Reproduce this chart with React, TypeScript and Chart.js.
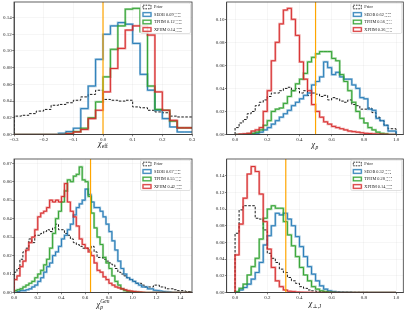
import React, { useEffect, useRef } from "react";
import { Chart, registerables } from "chart.js";
Chart.register(...registerables);

// ---------- data ----------
// Panel 1: chi_eff, bins from -0.3 width 0.025
const P1_LO = -0.3;
const P1_BW = 0.025;
const PRIOR1 = [0.021,0.022,0.023,0.025,0.028,0.030,0.035,0.036,0.038,0.041,0.045,0.048,0.053,0.042,0.041,0.040,0.041,0.033,0.032,0.029,0.027,0.026,0.022,0.021];
const SEOB1 = [0,0,0,0,0,0,0,0.0015,0.0035,0.0075,0.031,0.058,0.090,0.120,0.130,0.134,0.132,0.109,0.072,0.053,0.029,0.019,0.009,0.003];
const TPHM1 = [0,0,0,0,0,0,0,0,0.001,0.0035,0.0075,0.020,0.039,0.069,0.102,0.130,0.150,0.151,0.123,0.058,0.030,0.029,0.016,0.008];
const XPHM1 = [0,0,0,0,0,0,0,0,0.001,0.003,0.006,0.019,0.029,0.051,0.079,0.103,0.125,0.130,0.130,0.119,0.051,0.029,0.017,0.008];

// Panel 2: chi_p, bins from 0 width 0.025
const P2_LO = 0;
const P2_BW = 0.025;
const PRIOR2 = [0.003,0.006,0.010,0.013,0.018,0.020,0.025,0.028,0.030,0.033,0.036,0.036,0.038,0.040,0.041,0.038,0.040,0.036,0.038,0.034,0.036,0.035,0.033,0.034,0.030,0.032,0.031,0.029,0.028,0.030,0.026,0.025,0.022,0.022,0.023,0.019,0.015,0.012,0.008,0.005];
const SEOB2 = [0,0,0,0,0,0.0005,0.001,0.002,0.004,0.006,0.009,0.012,0.015,0.018,0.021,0.025,0.028,0.031,0.034,0.036,0.043,0.046,0.050,0.063,0.058,0.052,0.054,0.050,0.048,0.048,0.043,0.040,0.032,0.031,0.022,0.021,0.014,0.012,0.008,0.003];
const TPHM2 = [0,0,0,0,0.0005,0.001,0.002,0.004,0.008,0.012,0.020,0.022,0.023,0.027,0.033,0.038,0.044,0.048,0.053,0.063,0.067,0.070,0.072,0.072,0.072,0.066,0.064,0.052,0.046,0.038,0.028,0.020,0.014,0.010,0.006,0.004,0.002,0.001,0.0005,0];
const XPHM2 = [0,0,0.0003,0.0006,0.001,0.003,0.004,0.006,0.020,0.038,0.064,0.080,0.096,0.108,0.1095,0.100,0.086,0.063,0.048,0.038,0.026,0.020,0.015,0.011,0.009,0.007,0.006,0.005,0.004,0.003,0.0025,0.002,0.0015,0.001,0.0008,0.0005,0.0003,0.0002,0.0001,0];

// Panel 3: chi_p^Gen, bins from 0 width 0.025
const P3_LO = 0;
const P3_BW = 0.025;
const PRIOR3 = [0.002,0.011,0.013,0.018, 0.022,0.024,0.029,0.027, 0.031,0.031,0.032,0.033, 0.034,0.033,0.035,0.037, 0.034,0.034,0.032,0.031, 0.029,0.027,0.026,0.025, 0.024,0.024,0.023,0.025, 0.022,0.019,0.019,0.018, 0.017,0.016,0.015,0.013, 0.011,0.010,0.009,0.008, 0.007,0.006,0.005,0.005, 0.004,0.003,0.003,0.003, 0.004,0.004,0.003,0.003, 0.002,0.002,0.002,0.0015, 0.001,0.001,0.0008,0.0005];
const SEOB3 = [0,0,0.0005,0.001, 0.001,0.0015,0.002,0.003, 0.004,0.006,0.008,0.011, 0.014,0.016,0.020,0.022, 0.025,0.029,0.031,0.034, 0.037,0.042,0.046,0.048, 0.050,0.056,0.053,0.049, 0.046,0.046,0.044,0.041, 0.037,0.033,0.028,0.023, 0.017,0.013,0.010,0.008, 0.007,0.006,0.005,0.004, 0.003,0.003,0.002,0.002, 0.0012,0.001,0.0008,0.0005, 0.0003,0.0002,0,0, 0,0,0,0];
const TPHM3 = [0.0005,0.001,0.0015,0.002, 0.003,0.004,0.005,0.006, 0.008,0.010,0.012,0.015, 0.018,0.024,0.032,0.040, 0.044,0.049,0.055,0.061, 0.060,0.063,0.064,0.068, 0.061,0.060,0.052,0.043, 0.035,0.030,0.026,0.019, 0.016,0.013,0.009,0.006, 0.004,0.002,0.001,0.0005, 0.0004,0.0003,0.0002,0.0001, 0,0,0,0, 0,0,0,0, 0,0,0,0, 0,0,0,0];
const XPHM3 = [0.002,0.007,0.009,0.014, 0.017,0.023,0.027,0.030, 0.034,0.041,0.043,0.044, 0.046,0.050,0.049,0.050, 0.049,0.052,0.059,0.049, 0.044,0.041,0.036,0.029, 0.026,0.024,0.022,0.020, 0.016,0.012,0.011,0.0085, 0.007,0.005,0.004,0.003, 0.0025,0.002,0.0015,0.001, 0.0008,0.0005,0.0003,0.0002, 0.0001,0,0,0, 0,0,0,0, 0,0,0,0, 0,0,0,0];

// Panel 4: chi_perp,J, bins from 0 width 0.025
const P4_LO = 0;
const P4_BW = 0.025;
const PRIOR4 = [0.039,0.071,0.099,0.104,0.104,0.104,0.089,0.088,0.075,0.047,0.041,0.036,0.028,0.024,0.018,0.014,0.011,0.007,0.005,0.003,0.002,0.0015,0.001,0.001,0.0008,0.0006,0.0005,0.0004,0.0003,0.0003,0.0002,0.0002,0.0001,0.0001,0,0,0,0,0,0];
const SEOB4 = [0,0,0.003,0.006,0.010,0.016,0.024,0.036,0.057,0.068,0.080,0.095,0.093,0.095,0.088,0.080,0.067,0.055,0.043,0.031,0.022,0.014,0.008,0.004,0.002,0.001,0.0005,0.0003,0.0002,0.0001,0,0,0,0,0,0,0,0,0,0];
const TPHM4 = [0,0.001,0.005,0.010,0.021,0.031,0.041,0.064,0.089,0.100,0.104,0.101,0.101,0.085,0.069,0.056,0.043,0.030,0.021,0.014,0.007,0.004,0.002,0.001,0.0005,0.0002,0,0,0,0,0,0,0,0,0,0,0,0,0,0];
const XPHM4 = [0.012,0.045,0.082,0.113,0.142,0.151,0.145,0.118,0.085,0.052,0.030,0.014,0.007,0.003,0.0015,0.001,0.0005,0.0003,0.0002,0.0001,0,0,0,0,0,0,0,0,0,0,0,0,0,0,0,0,0,0,0,0];

const TRUTHS = [0.0, 0.5, 0.645, 0.315];

const XTICKS1 = [-0.3, -0.2, -0.1, 0.0, 0.1, 0.2, 0.3];
const YTICKS1 = [0, 0.02, 0.04, 0.06, 0.08, 0.1, 0.12, 0.14];
const XTICKS2 = [0, 0.2, 0.4, 0.6, 0.8, 1.0];
const YTICKS2 = [0, 0.02, 0.04, 0.06, 0.08, 0.1];
const XTICKS3 = [0, 0.2, 0.4, 0.6, 0.8, 1.0, 1.2, 1.4];
const YTICKS3 = [0, 0.01, 0.02, 0.03, 0.04, 0.05, 0.06, 0.07];
const XTICKS4 = [0, 0.2, 0.4, 0.6, 0.8, 1.0];
const YTICKS4 = [0, 0.02, 0.04, 0.06, 0.08, 0.1, 0.12, 0.14];

const SERIES_NAMES = ["Prior", "SEOB", "TPHM", "XPHM"];
const LEG1 = [["", "", ""], ["0.09", "+0.08", "\u22120.08"], ["0.12", "+0.08", "\u22120.08"], ["0.14", "+0.08", "\u22120.09"]];
const LEG2 = [["", "", ""], ["0.62", "+0.22", "\u22120.21"], ["0.56", "+0.17", "\u22120.19"], ["0.36", "+0.17", "\u22120.11"]];
const LEG3 = [["", "", ""], ["0.67", "+0.26", "\u22120.26"], ["0.55", "+0.17", "\u22120.21"], ["0.42", "+0.25", "\u22120.27"]];
const LEG4 = [["", "", ""], ["0.32", "+0.16", "\u22120.14"], ["0.28", "+0.14", "\u22120.13"], ["0.14", "+0.08", "\u22120.07"]];

const COLORS = ["#000000", "#1f77b4", "#2ca02c", "#d62728"];
const HALOS = ["rgba(0,0,0,0)", "rgba(31,119,180,0.45)", "rgba(44,160,44,0.45)", "rgba(214,39,40,0.45)"];
const TRUTH_COLOR = "#ffa500";

// ---------- layout ----------
type Area = { l: number; t: number; r: number; b: number };
type PanelDef = {
  left: number; top: number; cw: number; ch: number; area: Area;
  lo: number; bw: number; series: number[][];
  xMin: number; xMax: number; yMax: number;
  xTicks: number[]; yTicks: number[]; xDec: number; yDec: number;
  truth: number; legend: string[][]; legW: number;
  xlabel: { base: string; sub: string; sup: string; dy: number };
};

const PANELS: PanelDef[] = [
  { left: 0, top: 0, cw: 204, ch: 157, area: { l: 14, t: 2, r: 192, b: 134.5 },
    lo: P1_LO, bw: P1_BW, series: [PRIOR1, SEOB1, TPHM1, XPHM1],
    xMin: -0.3, xMax: 0.3, yMax: 0.1586, xTicks: XTICKS1, yTicks: YTICKS1, xDec: 1, yDec: 2,
    truth: TRUTHS[0], legend: LEG1, legW: 50,
    xlabel: { base: "\u03c7", sub: "eff", sup: "", dy: 11.5 } },
  { left: 204, top: 0, cw: 203, ch: 157, area: { l: 22.7, t: 2, r: 199.3, b: 134.5 },
    lo: P2_LO, bw: P2_BW, series: [PRIOR2, SEOB2, TPHM2, XPHM2],
    xMin: -0.052, xMax: 1.045, yMax: 0.115, xTicks: XTICKS2, yTicks: YTICKS2, xDec: 1, yDec: 2,
    truth: TRUTHS[1], legend: LEG2, legW: 51,
    xlabel: { base: "\u03c7", sub: "p", sup: "", dy: 12.2 } },
  { left: 0, top: 157, cw: 204, ch: 158, area: { l: 14, t: 2, r: 192, b: 135.5 },
    lo: P3_LO, bw: P3_BW, series: [PRIOR3, SEOB3, TPHM3, XPHM3],
    xMin: 0, xMax: 1.5, yMax: 0.0723, xTicks: XTICKS3, yTicks: YTICKS3, xDec: 1, yDec: 2,
    truth: TRUTHS[2], legend: LEG3, legW: 50,
    xlabel: { base: "\u03c7", sub: "p", sup: "Gen", dy: 14.5 } },
  { left: 204, top: 157, cw: 203, ch: 158, area: { l: 22.7, t: 2, r: 199.3, b: 135.5 },
    lo: P4_LO, bw: P4_BW, series: [PRIOR4, SEOB4, TPHM4, XPHM4],
    xMin: -0.052, xMax: 1.045, yMax: 0.160, xTicks: XTICKS4, yTicks: YTICKS4, xDec: 1, yDec: 2,
    truth: TRUTHS[3], legend: LEG4, legW: 51,
    xlabel: { base: "\u03c7", sub: "\u22a5,J", sup: "", dy: 13 } },
];

function histPoints(lo: number, w: number, counts: number[]) {
  const pts: { x: number; y: number }[] = [{ x: lo, y: 0 }];
  counts.forEach((c, i) => pts.push({ x: lo + i * w, y: c }));
  const end = lo + counts.length * w;
  pts.push({ x: end, y: counts[counts.length - 1] });
  pts.push({ x: end, y: 0 });
  return pts;
}

const fmt = (v: number, d: number) => {
  const s = Math.abs(v).toFixed(d);
  return v < -1e-9 ? "\u2212" + s : s;
};

const SERIF = '"Liberation Serif", "DejaVu Serif", serif';

function makeDecor(p: PanelDef) {
  return {
    id: "decor",
    afterDraw(chart: any) {
      const ctx: CanvasRenderingContext2D = chart.ctx;
      const a = chart.chartArea;
      ctx.save();
      // frame
      ctx.strokeStyle = "#3a3a3a";
      ctx.lineWidth = 0.8;
      ctx.setLineDash([]);
      ctx.strokeRect(a.left, a.top, a.right - a.left, a.bottom - a.top);

      // legend
      const bw = p.legW, bh = 30.5;
      const bx = a.right - 1.5 - bw, by = a.top + 1;
      ctx.beginPath();
      const r = 1.5;
      ctx.moveTo(bx + r, by);
      ctx.lineTo(bx + bw - r, by); ctx.quadraticCurveTo(bx + bw, by, bx + bw, by + r);
      ctx.lineTo(bx + bw, by + bh - r); ctx.quadraticCurveTo(bx + bw, by + bh, bx + bw - r, by + bh);
      ctx.lineTo(bx + r, by + bh); ctx.quadraticCurveTo(bx, by + bh, bx, by + bh - r);
      ctx.lineTo(bx, by + r); ctx.quadraticCurveTo(bx, by, bx + r, by);
      ctx.closePath();
      ctx.fillStyle = "rgba(255,255,255,0.85)";
      ctx.fill();
      ctx.strokeStyle = "#cccccc";
      ctx.lineWidth = 0.6;
      ctx.stroke();

      SERIES_NAMES.forEach((name, i) => {
        const cy = by + 4 + i * 7.5;
        const px = bx + 2.5, pw = 8, ph = 3.6;
        if (i === 0) {
          ctx.strokeStyle = "#000";
          ctx.lineWidth = 0.8;
          ctx.setLineDash([1.6, 1]);
          ctx.strokeRect(px, cy - ph / 2, pw, ph);
          ctx.setLineDash([]);
        } else {
          ctx.strokeStyle = HALOS[i];
          ctx.lineWidth = 1.8;
          ctx.strokeRect(px, cy - ph / 2, pw, ph);
          ctx.strokeStyle = COLORS[i];
          ctx.lineWidth = 0.7;
          ctx.strokeRect(px, cy - ph / 2, pw, ph);
        }
        const [val, sup, sub] = p.legend[i];
        ctx.fillStyle = "#222";
        ctx.textBaseline = "middle";
        ctx.textAlign = "left";
        ctx.font = `4.3px ${SERIF}`;
        const main = val ? `${name} ${val}` : name;
        const tx = bx + 13.5;
        ctx.fillText(main, tx, cy);
        if (sup) {
          const w = ctx.measureText(main).width;
          ctx.font = `2.9px ${SERIF}`;
          ctx.fillText(sup, tx + w + 0.3, cy - 1.3);
          ctx.fillText(sub, tx + w + 0.3, cy + 1.4);
        }
      });

      // x label
      ctx.fillStyle = "#111";
      ctx.textBaseline = "alphabetic";
      ctx.textAlign = "left";
      ctx.font = `italic 8px ${SERIF}`;
      const wb = ctx.measureText(p.xlabel.base).width;
      ctx.font = `5.5px ${SERIF}`;
      const wsub = ctx.measureText(p.xlabel.sub).width;
      const wsup = p.xlabel.sup ? ctx.measureText(p.xlabel.sup).width : 0;
      const total = wb + Math.max(wsub, wsup) + 0.5;
      const x0 = (a.left + a.right) / 2 - total / 2;
      const y0 = a.bottom + p.xlabel.dy;
      ctx.font = `italic 8px ${SERIF}`;
      ctx.fillText(p.xlabel.base, x0, y0);
      ctx.font = `${p.xlabel.sub === "p" ? "italic " : ""}5.5px ${SERIF}`;
      ctx.fillText(p.xlabel.sub, x0 + wb + 0.3, y0 + 2);
      if (p.xlabel.sup) {
        ctx.font = `italic 5.5px ${SERIF}`;
        ctx.fillText(p.xlabel.sup, x0 + wb + 0.3, y0 - 3.6);
      }
      ctx.restore();
    },
  };
}

function PanelChart({ p }: { p: PanelDef }) {
  const ref = useRef<HTMLCanvasElement | null>(null);
  useEffect(() => {
    if (!ref.current) return;
    const datasets: any[] = [];
    datasets.push({
      data: [{ x: p.truth, y: 0 }, { x: p.truth, y: p.yMax * 2 }],
      borderColor: TRUTH_COLOR, borderWidth: 1.2, pointRadius: 0, fill: false, order: 0,
    });
    p.series.forEach((counts, i) => {
      const pts = histPoints(p.lo, p.bw, counts);
      const baseOrder = i === 0 ? 20 : (4 - i) * 2 + 1;
      if (i === 0) {
        datasets.push({
          data: pts, stepped: "after", borderColor: "#000", borderWidth: 0.9,
          borderDash: [2.5, 1.5], pointRadius: 0, fill: false, order: baseOrder,
        });
      } else {
        datasets.push({
          data: pts, stepped: "after", borderColor: HALOS[i], borderWidth: 2.2,
          pointRadius: 0, fill: false, order: baseOrder + 1,
        });
        datasets.push({
          data: pts, stepped: "after", borderColor: COLORS[i], borderWidth: 0.9,
          pointRadius: 0, fill: false, order: baseOrder,
        });
      }
    });
    const tickFont = { family: SERIF, size: 5 };
    const chart = new Chart(ref.current, {
      type: "line",
      data: { datasets },
      options: {
        animation: false,
        responsive: false,
        devicePixelRatio: 1,
        layout: { padding: { left: 0, top: p.area.t, right: p.cw - p.area.r, bottom: 0 } },
        plugins: { legend: { display: false }, tooltip: { enabled: false } },
        elements: { line: { tension: 0 } },
        scales: {
          x: {
            type: "linear", min: p.xMin, max: p.xMax,
            afterBuildTicks: (s: any) => { s.ticks = p.xTicks.map((v) => ({ value: v })); },
            afterFit: (s: any) => {
              s.height = p.ch - p.area.b;
              s.paddingLeft = 0; s.paddingRight = 0; s.paddingTop = 0; s.paddingBottom = 0;
            },
            ticks: {
              font: tickFont, color: "#222", padding: 0.5, maxRotation: 0, autoSkip: false,
              callback: (v: any) => fmt(Number(v), p.xDec),
            },
            grid: { color: "rgba(0,0,0,0.07)", lineWidth: 0.5, tickColor: "#333", tickLength: 1.8, tickWidth: 0.6 },
            border: { display: true, color: "#3a3a3a", width: 0.8 },
          },
          y: {
            type: "linear", min: 0, max: p.yMax,
            afterBuildTicks: (s: any) => { s.ticks = p.yTicks.map((v) => ({ value: v })); },
            afterFit: (s: any) => {
              s.width = p.area.l;
              s.paddingLeft = 0; s.paddingRight = 0; s.paddingTop = 0; s.paddingBottom = 0;
            },
            ticks: {
              font: tickFont, color: "#222", padding: 0.5, autoSkip: false,
              callback: (v: any) => fmt(Number(v), p.yDec),
            },
            grid: { color: "rgba(0,0,0,0.07)", lineWidth: 0.5, tickColor: "#333", tickLength: 1.8, tickWidth: 0.6 },
            border: { display: true, color: "#3a3a3a", width: 0.8 },
          },
        },
      } as any,
      plugins: [makeDecor(p)],
    });
    return () => chart.destroy();
  }, [p]);
  return (
    <canvas
      ref={ref}
      width={p.cw}
      height={p.ch}
      style={{ position: "absolute", left: p.left, top: p.top, width: p.cw, height: p.ch }}
    />
  );
}

export default function App() {
  return (
    <div style={{ position: "absolute", left: 0, top: 0, width: 407, height: 315, background: "#fff" }}>
      {PANELS.map((p, i) => (
        <PanelChart key={i} p={p} />
      ))}
    </div>
  );
}
